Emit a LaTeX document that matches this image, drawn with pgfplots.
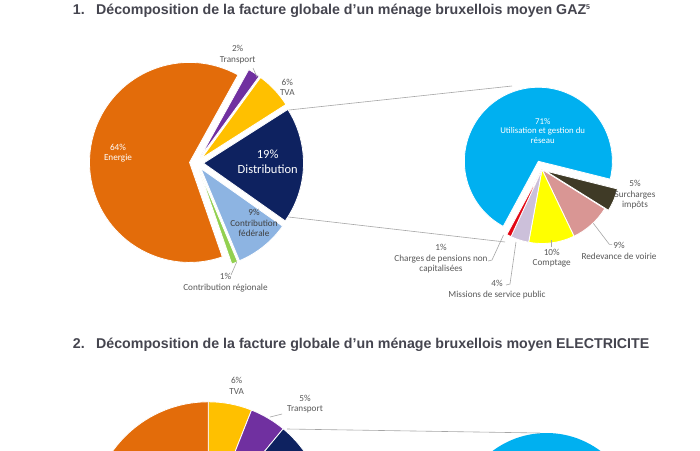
\documentclass[border=0pt]{standalone}
\usepackage{pgfplots}
\pgfplotsset{compat=1.18}
\usepackage{fontspec}
\setmainfont{Carlito}
\newfontfamily\titlefont{Liberation Sans}
\definecolor{cEn}{HTML}{E36C0A}
\definecolor{cTr}{HTML}{7030A0}
\definecolor{cTVA}{HTML}{FFC000}
\definecolor{cDi}{HTML}{0E2260}
\definecolor{cFe}{HTML}{8DB4E2}
\definecolor{cRe}{HTML}{92D050}
\definecolor{cUt}{HTML}{00B0F0}
\definecolor{cSu}{HTML}{3F3A26}
\definecolor{cRd}{HTML}{D99694}
\definecolor{cCo}{HTML}{FFFF00}
\definecolor{cMi}{HTML}{CCC0DA}
\definecolor{cCh}{HTML}{E30613}
\definecolor{ttl}{HTML}{45454F}
\definecolor{lbl}{HTML}{595959}
\definecolor{dlbl}{HTML}{404040}
\definecolor{ln}{HTML}{A6A6A6}

% #1 cx, #2 cy, #3 radius, #4 start angle, #5 total, #6 list value/colour/explode
\newcommand\drawpie[6]{%
  \xdef\curA{#4}%
  \foreach \pv/\pc/\pe in {#6} {%
    \pgfmathsetmacro\angB{\curA-\pv/#5*360}%
    \pgfmathsetmacro\angM{(\curA+\angB)/2}%
    \pgfmathsetmacro\apx{#1+\pe*cos(\angM)}%
    \pgfmathsetmacro\apy{#2+\pe*sin(\angM)}%
    \pgfmathsetmacro\opx{\apx+#3*cos(\curA)}%
    \pgfmathsetmacro\opy{\apy+#3*sin(\curA)}%
    \fill[\pc, draw=white, line width=0.8pt] (axis cs:\apx,\apy) -- (axis cs:\opx,\opy) arc[start angle=\curA, end angle=\angB, radius=#3pt] -- cycle;
    \xdef\curA{\angB}%
  }%
}

\tikzset{
  lab/.style={font=\fontsize{9.2}{10.6}\selectfont, align=center, text=lbl, inner sep=0pt},
  ttlstyle/.style={anchor=base west, font=\titlefont\bfseries\fontsize{14.2}{16}\selectfont, text=ttl, inner sep=0pt},
  lead/.style={draw=ln, line width=0.6pt}
}

\begin{document}
\begin{tikzpicture}
\useasboundingbox (0,0) rectangle (700pt,450pt);
\fill[white] (0,0) rectangle (700pt,450pt);
\clip (0,0) rectangle (700pt,450pt);
\begin{axis}[width=700pt, height=450pt, scale only axis, at={(0,0)}, anchor=south west,
  xmin=0, xmax=700, ymin=0, ymax=450, hide axis, clip=false]
\addplot[draw=none] coordinates {(0,0)};
\pgfplotsextra{%
  \drawpie{196.5}{287}{100}{61}{101}{2/cTr/7, 6/cTVA/7, 19/cDi/7, 9/cFe/7, 1/cRe/7, 64/cEn/7}%
  \drawpie{542}{280.5}{74}{-14}{100}{5/cSu/4, 9/cRd/0, 10/cCo/0, 4/cMi/0, 1/cCh/0, 71/cUt/9}%
  \drawpie{208.3}{-69.3}{117.5}{90}{100}{6/cTVA/0, 5/cTr/0, 40/cDi/0, 49/cEn/0}%
  \fill[cUt] (axis cs:546.5,-73) circle[radius=90pt];
}
% titles
\node[ttlstyle] at (axis cs:72.7,435) {1.};
\node[ttlstyle] at (axis cs:96,435) {Décomposition de la facture globale d’un ménage bruxellois moyen GAZ\raisebox{5.5pt}{\fontsize{7}{7}\selectfont 5}};
\node[ttlstyle] at (axis cs:72.7,102) {2.};
\node[ttlstyle] at (axis cs:96,102) {Décomposition de la facture globale d’un ménage bruxellois moyen ELECTRICITE};
% connectors
\draw[lead] (axis cs:289,340) -- (axis cs:512,364);
\draw[lead] (axis cs:288.5,233) -- (axis cs:505,208);
\draw[lead] (axis cs:287,21) -- (axis cs:540,17);
% leaders
\draw[lead] (axis cs:253,382) -- (axis cs:257,373);
\draw[lead] (axis cs:231,175) -- (axis cs:236.7,188);
\draw[lead] (axis cs:593.3,226.7) -- (axis cs:609.3,205.7) -- (axis cs:612,205.7);
\draw[lead] (axis cs:551.7,210) -- (axis cs:551.7,203.3);
\draw[lead] (axis cs:488,189) -- (axis cs:492,190) -- (axis cs:503.5,215);
\draw[lead] (axis cs:506,165) -- (axis cs:510,166) -- (axis cs:516,208);
\draw[lead] (axis cs:270,33) -- (axis cs:282,36);
% labels GAZ primary
\node[lab, text=white] at (axis cs:118,297) {64\%\\Energie};
\node[lab] at (axis cs:237.7,395.3) {2\%\\Transport};
\node[lab] at (axis cs:287.3,362.7) {6\%\\TVA};
\node[lab, text=white, font=\fontsize{12.5}{15}\selectfont] at (axis cs:267.7,288) {19\%\\Distribution};
\node[lab, text=dlbl] at (axis cs:254,227) {9\%\\Contribution\\fédérale};
\node[lab] at (axis cs:225.5,167.2) {1\%\\Contribution régionale};
% labels GAZ secondary
\node[lab, text=white, font=\fontsize{8.8}{9.6}\selectfont] at (axis cs:542.7,319) {71\%\\Utilisation et gestion du\\réseau};
\node[lab] at (axis cs:635,255) {5\%\\Surcharges\\impôts};
\node[lab] at (axis cs:619,199) {9\%\\Redevance de voirie};
\node[lab] at (axis cs:551.7,191.7) {10\%\\Comptage};
\node[lab] at (axis cs:441,191.3) {1\%\\Charges de pensions non\\capitalisées};
\node[lab] at (axis cs:497,160.3) {4\%\\Missions de service public};
% labels ELECTRICITE
\node[lab] at (axis cs:236.7,64) {6\%\\TVA};
\node[lab] at (axis cs:305,46) {5\%\\Transport};
\end{axis}
\end{tikzpicture}
\end{document}
